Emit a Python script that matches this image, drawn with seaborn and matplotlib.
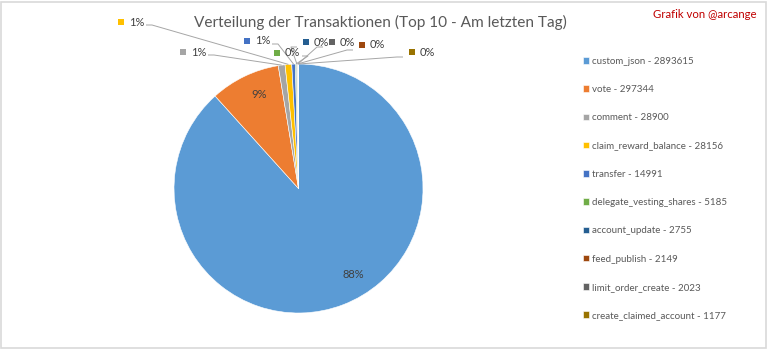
import matplotlib
matplotlib.use("Agg")
import matplotlib.pyplot as plt
from matplotlib.patches import Rectangle
import numpy as np
import seaborn as sns

# Transaction counts per operation type (top 10, last day)
operations = ["custom_json", "vote", "comment", "claim_reward_balance", "transfer",
              "delegate_vesting_shares", "account_update", "feed_publish",
              "limit_order_create", "create_claimed_account"]
counts = [2893615, 297344, 28900, 28156, 14991, 5185, 2755, 2149, 2023, 1177]
pct_labels = ["88%", "9%", "1%", "1%", "1%", "0%", "0%", "0%", "0%", "0%"]
colors = ["#5B9BD5", "#ED7D31", "#A5A5A5", "#FFC000", "#4472C4",
          "#70AD47", "#255E91", "#9E480E", "#636363", "#997300"]
title = "Verteilung der Transaktionen (Top 10 - Am letzten Tag)"
credit = "Grafik von @arcange"

sns.set_theme(style="white")
plt.rcParams["font.family"] = ["Lato", "DejaVu Sans"]

W, H = 768, 350
fig = plt.figure(figsize=(W / 100, H / 100), dpi=100)
ax = fig.add_axes([0, 0, 1, 1])

# pixel-like coordinate system, y measured from the bottom
cx, cy, r = 298.5, H - 188.5, 124.5
palette = sns.color_palette(colors)
wedges, _ = ax.pie(counts, colors=palette, startangle=90, counterclock=False,
                   center=(cx, cy), radius=r,
                   wedgeprops=dict(linewidth=0.4, edgecolor="white"))
ax.set_xlim(0, W)
ax.set_ylim(0, H)
ax.set_aspect("equal")
ax.axis("off")

label_color = "#404040"

# labels inside the two large slices
inside = {0: (353, 274), 1: (259, 94)}
for i, (x, y) in inside.items():
    ax.text(x, H - y, pct_labels[i], ha="center", va="center",
            fontsize=8, color=label_color)

# labels outside the thin slices: (square x, y, side)
outside = {2: (183, 52, "left"), 3: (121, 22, "left"), 4: (247, 41, "left"),
           5: (277, 53, "left"), 6: (306, 42, "right"), 7: (362, 45, "right"),
           8: (332, 42, "right"), 9: (412, 52, "right")}
for i, (sx, sy, side) in outside.items():
    w = wedges[i]
    mid = np.deg2rad((w.theta1 + w.theta2) / 2)
    px, py = cx + r * np.cos(mid), cy + r * np.sin(mid)
    ax.add_patch(Rectangle((sx - 3, H - sy - 3), 6, 6, color=palette[i], lw=0))
    ax.text(sx + 8, H - sy, pct_labels[i], ha="left", va="center",
            fontsize=8, color=label_color)
    if side == "left":
        x0, y0 = sx + 25, H - sy - 3
        xs, ys = [x0, x0 + 6, px], [y0, y0, py]
    else:
        x0, y0 = sx - 9, H - sy - 5
        xs, ys = [x0, x0 - 6, px], [y0, y0, py]
    ax.plot(xs, ys, color="#A6A6A6", lw=0.7, solid_capstyle="butt")

# legend on the right
leg = ax.legend(wedges, [f"{n} - {c}" for n, c in zip(operations, counts)],
                loc="upper left", bbox_to_anchor=(574 / W, 1 - 48 / H),
                frameon=False, fontsize=7, handlelength=0.65, handleheight=0.65,
                handletextpad=0.35, labelspacing=1.98, labelcolor="#595959")

ax.text(380, H - 22, title, ha="center", va="center", fontsize=11.1, color="#595959")
ax.text(757, H - 14, credit, ha="right", va="center", fontsize=8.2, color="#C00000")

# chart frame
ax.add_patch(Rectangle((1, 2), 764.5, 346.5, fill=False, edgecolor="#D9D9D9", lw=1.2))

fig.savefig("out.png", dpi=100)
